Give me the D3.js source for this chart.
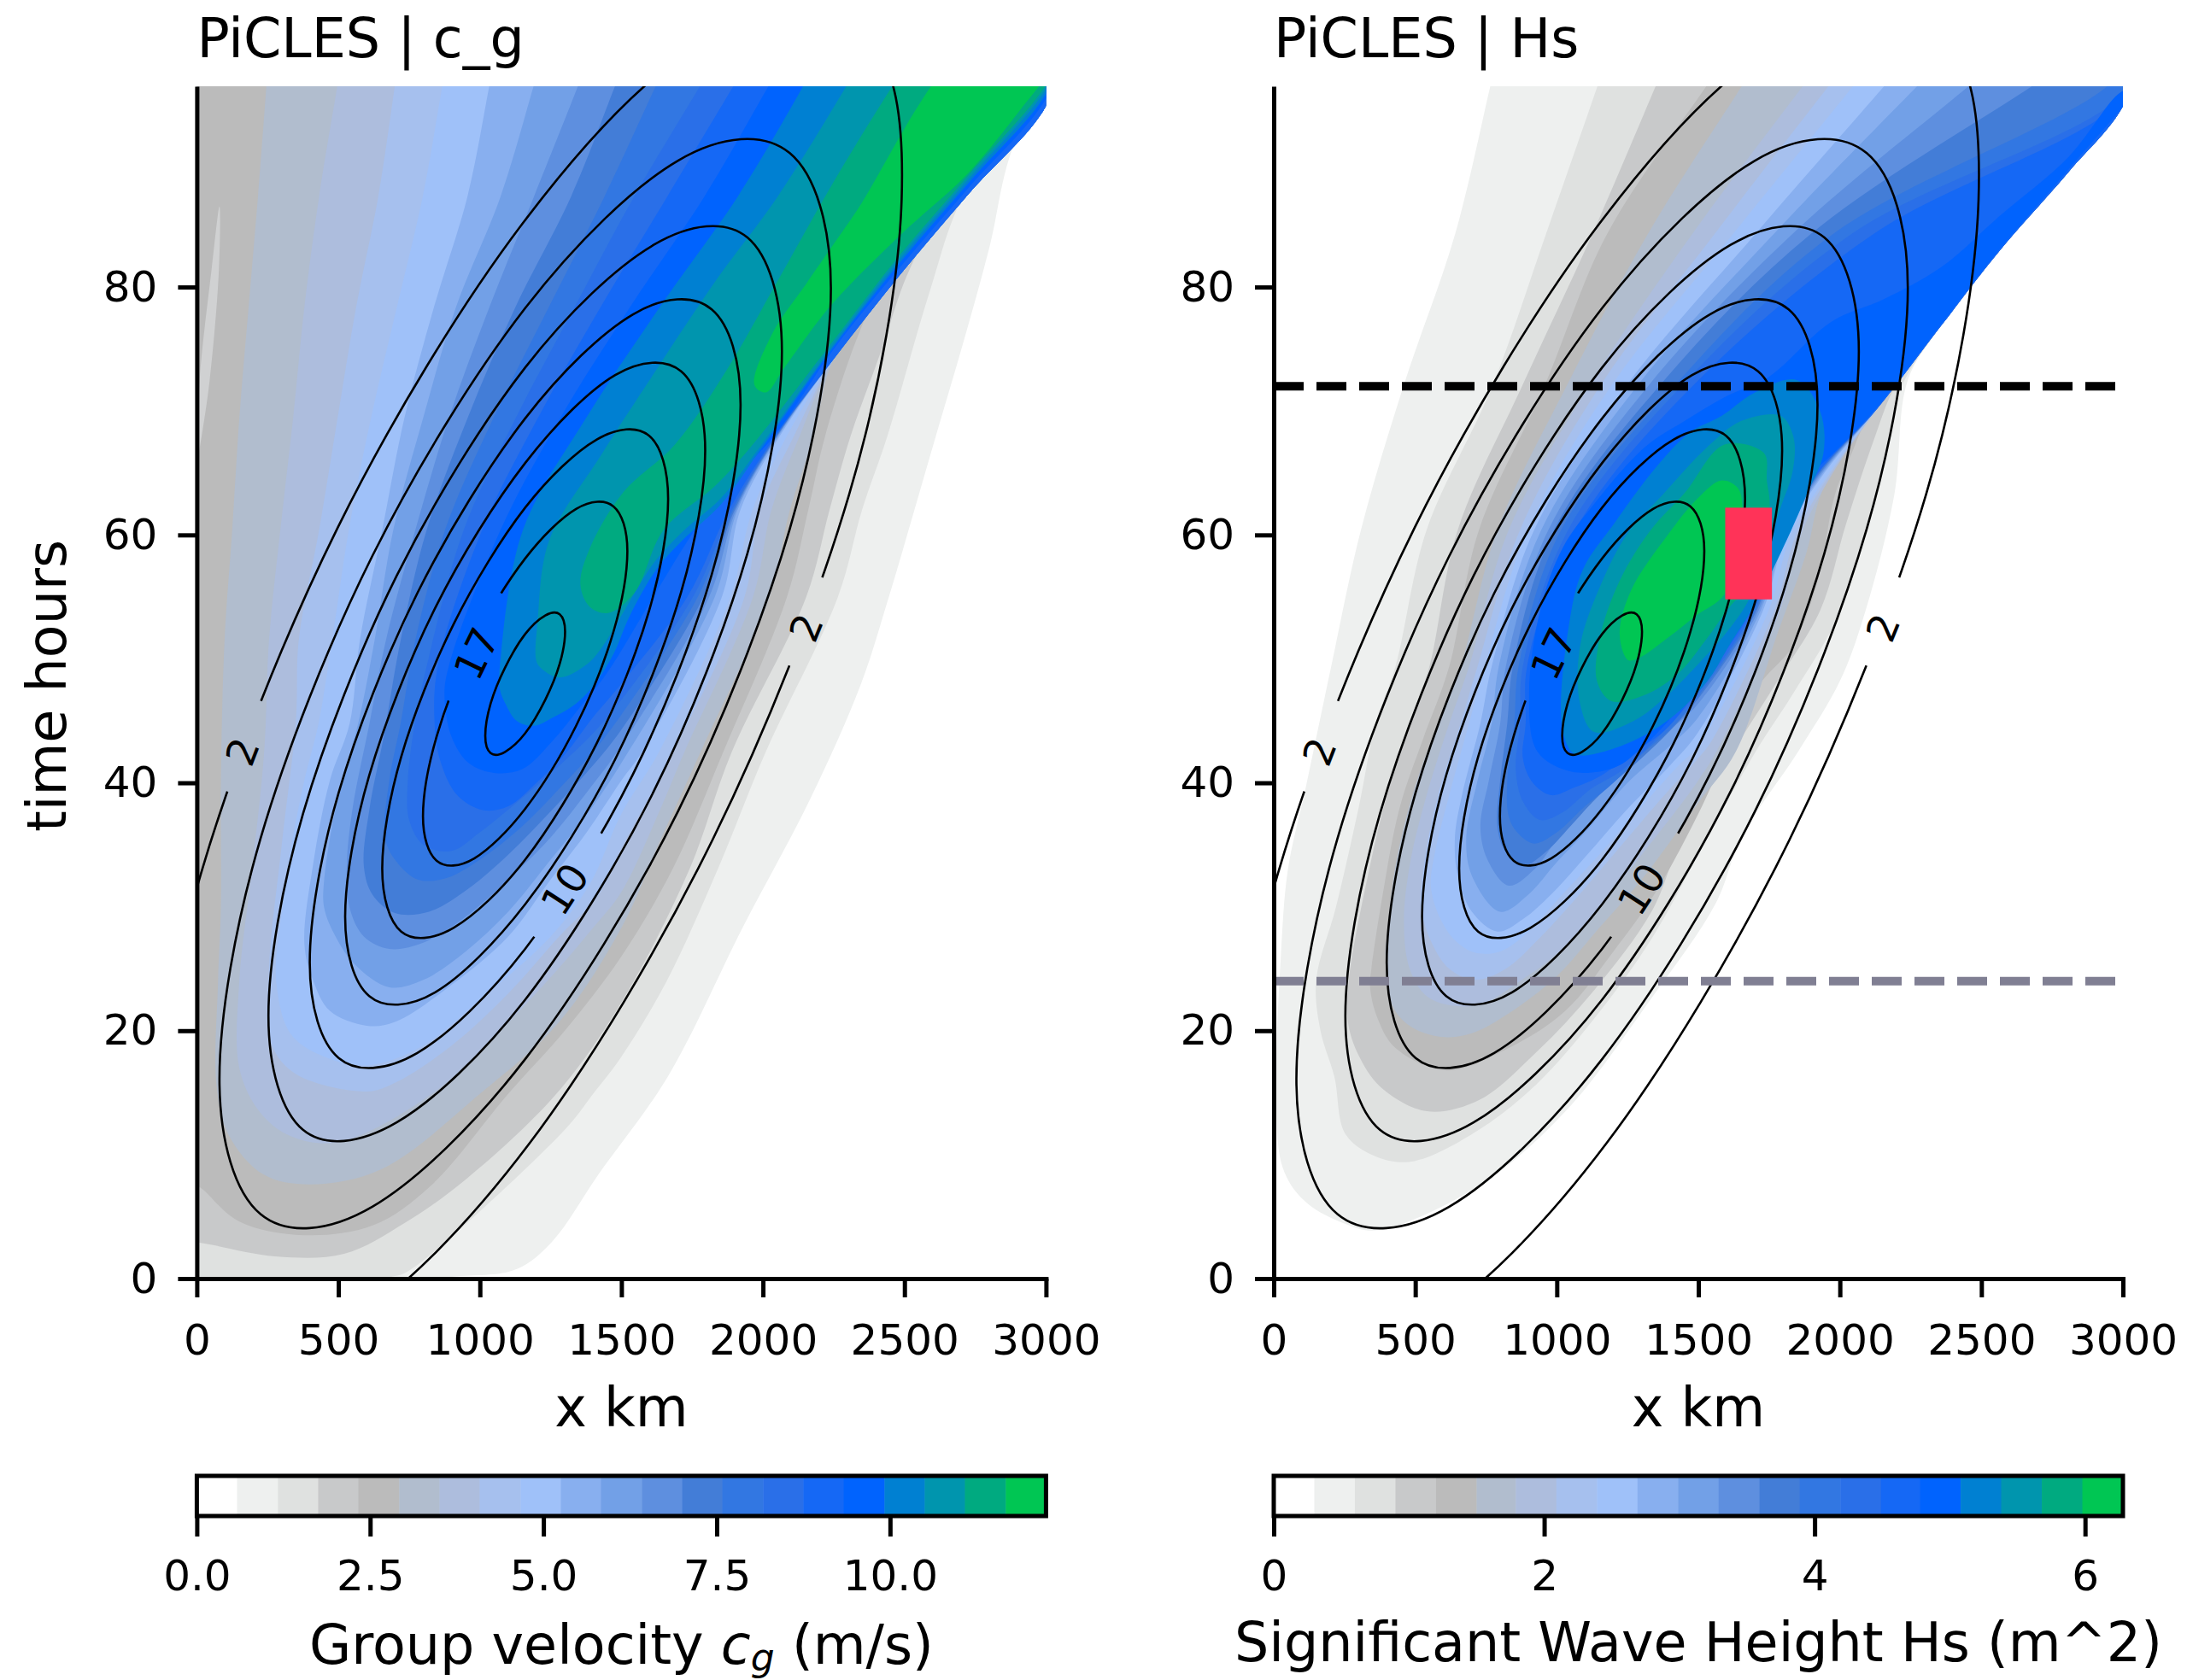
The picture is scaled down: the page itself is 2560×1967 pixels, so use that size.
<!DOCTYPE html>
<html lang="en">
<head>
<meta charset="UTF-8">
<title>PiCLES c_g and Hs</title>
<script src="https://cdn.jsdelivr.net/npm/d3@7"></script>
<style>
  body { margin: 0; background: #fff; }
  text { font-family: "DejaVu Sans", sans-serif; fill: #000; }
  .axis text { font-size: 50px; }
  .axis path, .axis line { stroke: #000; stroke-width: 5px; }
</style>
</head>
<body>
<script>

var xTicks = [0, 500, 1000, 1500, 2000, 2500, 3000];
var yTicks = [0, 20, 40, 60, 80];
var cgTicks = [0, 2.5, 5, 7.5, 10];
var hsTicks = [0, 2, 4, 6];

// colour of each band, lowest first
var bandColors = ["#ffffff", "#eef0ef", "#dfe1e0", "#c8c9ca", "#bbbbbb", "#b1bdce", "#adbddd", "#a6c0ee",
  "#9fc1f9", "#88afef", "#72a0e7", "#5e8fdf", "#437dd7", "#3277e2", "#2a6fe8", "#1568f5",
  "#0063fe", "#0080d2", "#0095ae", "#00aa80", "#00c653"];

var cgLevels = [0, .58, 1.17, 1.75, 2.33, 2.92, 3.5, 4.08, 4.67, 5.25, 5.83, 6.42, 7, 7.58, 8.17, 8.75, 9.33, 9.92, 10.5, 11.08, 11.67, 12.25];
var hsLevels = [0, .3, .6, .9, 1.2, 1.5, 1.79, 2.09, 2.39, 2.69, 2.99, 3.29, 3.59, 3.89, 4.19, 4.49, 4.78, 5.08, 5.38, 5.68, 5.98, 6.28];

// wave front on the upper right, both panels end their bands along it
var tailA = [[2250,74.2],[2481,80.9],[2726,87.5],[3000,94.6],[3070,100]];
var tailB = [[2132,70.2],[2358,76.9],[2563,82.9],[2808,89.3],[3000,94.6],[3070,100]];

// band outlines, [x km, t hours]
var cgBands = [
  [[-50,100],[-50,.2],[931,.2],[1133,.8],[1256,3],[1419,8.4],[1664,16.3],[1930,28.4],[2165,38.6],[2345,47.9],[2445,55],[2535,62],[2615,68.3],[2705,75.3],[2800,83.2],[2880,91.1],[3070,100]],
  [[-50,100],[-50,.2],[700,.2],[766,.9],[1300,12],[1400,14.9],[1500,17.9],[1660,24],[1840,33],[2010,42.5],[2265,55],[2350,62],[2440,68],[2590,79.7],[2706,87.3],[3070,100]],
  [[-50,100],[-50,3],[10,2.9],[276,1.8],[520,2],[735,4.5],[950,8],[1270,14.9],[1500,22.3],[1740,33],[1890,42.5],[2153,55],[2235,62],[2310,68],[2420,75],[2510,81],[2650,87],[3070,100]],
  [[-50,100],[-50,9],[31,7],[150,4.6],[378,3.5],[623,4.3],[827,7.5],[1100,14.9],[1300,20],[1500,26],[1680,33],[1860,42.5],[2085,55],[2160,62],[2220,68],[2338,76.2],[2420,80],[3070,100]],
  [[258,100],[246,96.3],[216,87.3],[183,78.4],[150,69.4],[125,60.4],[98,51.5],[85,40],[85,30],[75,24],[70,15.5],[112,11.6],[235,8.4],[398,7.6],[650,8.8],[1000,14.9],[1280,20.7],[1500,28.3],[1640,35.5],[1780,42.5],[2023,55],[2095,62],[2180,68]].concat(tailA),
  [[524,100],[497,96.3],[432,87.3],[380,78.4],[340,69.4],[295,60.4],[255,51.5],[238,42.5],[195,33],[150,24],[150,17],[220,13.5],[330,11.5],[500,11],[830,14.9],[1050,19.5],[1250,24.3],[1400,28.3],[1500,31.2],[1640,38],[1723,42.5],[1965,55],[2030,62],[2130,68]].concat(tailA),
  [[724,100],[700,96.3],[641,87.3],[563,78.4],[497,69.4],[432,60.4],[360,51.5],[350,45],[300,35],[255,25],[262,19],[350,16.5],[600,15.1],[700,15.8],[900,18.8],[1100,23],[1280,27.6],[1420,31],[1500,34.7],[1683,42.5],[1935,55],[1990,62],[2110,68]].concat(tailA),
  [[897,100],[868,96.3],[798,87.3],[707,78.4],[615,69.4],[537,60.4],[478,51.5],[430,44.8],[380,40.2],[330,34.4],[295,28.7],[280,24.1],[330,19.8],[440,18],[600,17.2],[800,18.8],[1000,22.5],[1250,27.6],[1390,31.9],[1500,37.5],[1633,42.5],[1885,55],[1963,62],[2085,68]].concat(tailA),
  [[1066,100],[1034,96.3],[956,87.3],[838,78.4],[733,69.4],[655,60.4],[576,51.5],[540,44.8],[470,40.2],[410,33.3],[380,27],[410,24.1],[470,21.6],[600,20.4],[700,20.7],[900,23.7],[1100,27.6],[1250,32.2],[1380,36.1],[1500,40.2],[1573,42.5],[1855,55],[1920,62],[2060,68]].concat(tailA),
  [[1239,100],[1191,96.3],[1073,87.3],[916,78.4],[799,69.4],[694,60.4],[628,51.5],[570,44.8],[500,39],[450,32.2],[450,29.9],[490,27.6],[560,25.3],[680,23.5],[800,24.1],[950,26.4],[1100,29.6],[1250,33.8],[1380,37.5],[1500,41.6],[1830,55],[1910,62],[2055,68]].concat(tailA),
  [[1410,100],[1348,96.3],[1191,87.3],[1034,78.4],[890,69.4],[772,60.4],[668,51.5],[610,44.8],[550,37.9],[530,33.3],[540,29.9],[590,27.6],[680,26.6],[800,27.1],[950,29.2],[1100,32.2],[1250,35.6],[1380,39.3],[1500,43],[1810,55],[1905,62],[2052,68]].concat(tailA),
  [[1543,100],[1479,96.3],[1322,87.3],[1126,78.4],[956,69.4],[812,60.4],[720,51.5],[660,43.7],[610,37.9],[590,33.3],[620,31],[700,29.5],[820,29.6],[950,31.3],[1100,34.2],[1250,37.7],[1380,40.9],[1500,44.3],[1790,55],[1900,62],[2050,68]].concat(tailA),
  [[1698,100],[1623,96.3],[1440,87.3],[1244,78.4],[1047,69.4],[877,60.4],[772,51.5],[720,44.8],[680,40.2],[665,35.6],[700,33.8],[780,32.2],[880,32.3],[1000,33.8],[1150,36.5],[1300,40],[1400,42.5],[1500,45.5],[1770,55],[1895,62],[2048,68]].concat(tailA),
  [[1876,100],[1780,96.3],[1545,87.3],[1335,78.4],[1126,69.4],[943,60.4],[812,49.4],[770,44.8],[745,40],[750,37],[800,35],[900,34.5],[1000,36],[1150,38.8],[1300,41.8],[1400,44],[1500,46.7],[1753,55],[1890,62],[2046,68]].concat(tailA),
  [[1995,100],[1898,96.3],[1662,87.3],[1427,78.4],[1204,69.4],[1008,60.4],[851,49.4],[840,44.8],[860,41.8],[920,39],[1010,37.8],[1100,38.1],[1200,40],[1300,42.3],[1400,45.3],[1500,48],[1733,55],[1880,62],[2044,68]].concat(tailA),
  [[2116,100],[2022,96.3],[1793,87.3],[1531,78.4],[1283,69.4],[1073,60.4],[890,49.4],[875,47],[900,43.7],[960,41.6],[1050,40.8],[1150,41.1],[1250,43.2],[1350,46],[1450,48.9],[1623,55.4],[1753,60.2],[1873,63.9],[2040,68],[2250,75],[2481,81.5],[2726,88],[3000,95.2],[3070,100]],
  [[2230,100],[2144,96.3],[1911,87.3],[1636,78.4],[1374,69.4],[1152,60.4],[1073,50],[1070,47.6],[1090,46.4],[1130,45],[1190,44.6],[1260,45.3],[1340,46.4],[1400,47.8],[1470,50.3],[1530,53.5],[1623,57.2],[1713,59.5],[1853,62.5],[1983,66.6],[2250,75.2],[2481,81.9],[2726,88.4],[3000,95.6],[3070,100]],
  [[2390,100],[2297,96.3],[2052,87.3],[1833,80.5],[1597,72.4],[1427,66.4],[1244,59.5],[1204,53],[1198,50],[1210,49.4],[1280,48.5],[1380,49.6],[1433,51],[1513,54],[1613,57.7],[1713,60.2],[1853,63],[1983,66.9],[2250,75.4],[2481,82.2],[2726,88.7],[3000,96],[3070,100]],
  [[2570,100],[2460,96.3],[2250,88.5],[2052,80.5],[1872,73.3],[1689,67.3],[1505,63.4],[1388,58.9],[1355,56],[1388,54.2],[1453,53.7],[1545,55.3],[1649,60.4],[1833,64],[1964,67.3],[2250,75.7],[2481,82.5],[2726,89],[3000,96.3],[3070,100]],
  [[2754,100],[2318,85.7],[2154,80.3],[2032,76.2],[1970,72.1],[2011,71.5],[2073,73.4],[2236,78.4],[2481,84.1],[2726,89.2],[2930,94.9],[3000,97],[3070,100]]
];

// thin lighter streak next to the time axis in the c_g panel
var cgSliver = [[80,86.5],[78,81.4],[45,72.4],[12,67.3],[5,66.5],[10,72.4],[52,81.4]];

var hsBands = [
  [[805,100],[766,96.3],[641,84.3],[458,72],[308,60.4],[203,49.4],[110,39.3],[50,33],[25,26],[10,16.3],[31,9],[112,6.2],[255,4.4],[367,3.9],[725,7.5],[1031,13.5],[1337,22.7],[1562,30.3],[1652,35.6],[1852,42.5],[2002,48.3],[2092,54],[2192,63.2],[2240,72.5]].concat(tailB.slice(1)),
  [[1200,100],[1145,96.3],[962,84.3],[772,72],[540,60.4],[430,49.4],[360,44.8],[300,38],[220,30],[150,24.1],[165,20],[214,16.3],[255,11.6],[378,9.7],[500,9.5],[725,12],[929,15.7],[1133,21],[1337,27.5],[1532,35.6],[1702,42.5],[1832,47.1],[1982,52.9],[2072,58.6],[2152,65.5],[2215,71.8]].concat(tailB.slice(1)),
  [[1420,100],[1351,96.3],[1126,84.3],[877,72],[650,60.4],[550,49.4],[480,44.8],[400,39],[340,33.3],[265,24.1],[262,20.7],[300,18],[380,15.4],[541,13.5],[725,14.4],[929,18.3],[1133,23.3],[1337,29.7],[1442,35.6],[1622,42.5],[1782,48.3],[1932,54],[2022,60.9],[2122,67.8],[2200,72.2]].concat(tailB.slice(1)),
  [[1640,100],[1531,96.3],[1178,84.3],[956,72],[725,60.4],[620,49.4],[530,43.7],[445,38],[385,31],[345,25],[340,23.6],[365,21.1],[430,18.6],[612,16.8],[830,18.6],[1030,21.6],[1200,26.4],[1350,31.2],[1500,37.5],[1590,42],[1712,47.8],[1832,51],[1922,56.3],[1982,63.2],[2042,66.6],[2100,69.5]].concat(tailB.slice(1)),
  [[1760,100],[1656,96.3],[1322,84.3],[1034,72],[790,60.4],[660,49.4],[580,44.8],[490,39],[430,33.3],[400,27.6],[395,26],[420,22],[480,20.4],[590,19.5],[700,19.8],[830,21.4],[1000,24.4],[1150,28.3],[1300,32.2],[1500,38.4],[1632,42.5],[1782,52.2],[1882,58.6],[1932,63.2],[2002,66]].concat(tailB),
  [[1995,100],[1872,96.3],[1479,84.3],[1113,72],[830,60.4],[690,49.4],[620,44.8],[540,39],[480,33.3],[460,28.7],[480,25],[540,22.8],[640,22],[740,22.2],[870,24],[1000,26.2],[1150,30],[1300,34.2],[1500,40.2],[1575,43],[1790,54],[1862,60],[1975,65]].concat(tailB),
  [[2090,100],[1963,96.3],[1558,84.3],[1152,72],[870,60.4],[720,49.4],[660,44.8],[580,39],[530,33.3],[520,29.9],[560,27],[620,25],[710,24.1],[820,25],[940,27.5],[1080,31],[1230,35],[1380,39],[1500,42],[1550,43.5],[1770,54],[1845,60],[1968,65]].concat(tailB),
  [[2180,100],[2050,96.3],[1623,84.3],[1191,72],[897,60.4],[745,49.4],[690,44.8],[620,39],[570,34.4],[555,31.7],[585,29.2],[640,27.3],[710,26.3],[800,26.4],[900,28],[1000,30.5],[1150,34.2],[1300,38.1],[1430,41.4],[1500,43],[1750,54],[1827,60],[1962,65]].concat(tailB),
  [[2300,100],[2160,96.3],[1702,84.3],[1244,72],[920,60.4],[770,49.4],[730,44.8],[665,39],[640,35.6],[650,32.5],[700,29.6],[790,28],[880,29],[980,31],[1100,34],[1250,37.9],[1400,41.4],[1500,44.1],[1730,54],[1810,60],[1945,65]].concat(tailB),
  [[2435,100],[2277,96.3],[1767,84.3],[1283,72],[945,60.4],[795,49.4],[770,44.8],[720,40.2],[680,35.6],[700,32.5],[800,29.6],[900,31],[1000,33.6],[1100,36],[1250,40],[1400,43],[1500,45.3],[1722,54],[1805,60],[1940,65]].concat(tailB),
  [[2655,100],[2460,96.3],[1833,84.3],[1322,72],[970,60.4],[820,49.4],[800,44.8],[760,40.2],[730,36.5],[755,33.8],[830,31.7],[920,33],[1000,35.4],[1100,38],[1250,41.6],[1400,44.3],[1500,46.4],[1715,54],[1800,60],[1935,65]].concat(tailB),
  [[2925,100],[2685,96.3],[1898,84.3],[1361,72],[990,60.4],[845,49.4],[825,44.8],[800,40.2],[790,36.5],[815,34.6],[880,33.3],[960,34.4],[1060,36.8],[1150,39],[1300,42],[1400,44.2],[1500,46.8],[1708,54],[1797,60],[1930,65]].concat(tailB),
  [[2950,96.3],[1977,84.3],[1414,72],[1015,60.4],[865,49.4],[850,44.8],[825,40.2],[830,37.3],[860,36],[920,35.1],[1000,36],[1100,38.1],[1200,40],[1300,42.3],[1400,44.3],[1500,47],[1702,54],[1795,60],[1926,65]].concat(tailB),
  [[3000,95.6],[2042,84.3],[1440,72],[1040,60.4],[880,49.4],[870,44.8],[855,41],[880,38.5],[940,37],[1020,37.6],[1120,39.5],[1230,41],[1350,43.5],[1500,47.3],[1697,54],[1793,60],[1924,65]].concat(tailB),
  [[3000,95.2],[2120,84.3],[1479,72],[1065,60.4],[895,49.4],[890,44.8],[880,42],[915,40],[980,39],[1060,39.6],[1150,40.5],[1260,42.3],[1380,44.2],[1500,47.6],[1690,54],[1791,60],[1922,65]].concat(tailB),
  [[1052,40.9],[932,42.5],[902,47.1],[942,54],[1022,59],[1132,62.5],[1312,67.1],[1452,69.2],[1600,71.2],[1746,72.7],[1970,77.2],[2154,79],[2358,81.6],[2563,85.7],[2808,90.5],[2991,95.7],[3040,96],[2808,89.5],[2563,83],[2358,77],[2132,70.3],[1982,66.7],[1872,64.3],[1802,62],[1762,58.6],[1672,54],[1552,49.9],[1432,46],[1285,42.5],[1200,41.2]],
  [[1092,42.2],[1052,42.5],[1017,44.8],[1042,52.6],[1092,57.2],[1202,60.9],[1352,65.5],[1472,68.3],[1582,69.6],[1700,71.5],[1848,72.5],[1930,70],[1942,66.6],[1882,63.2],[1792,58.6],[1702,54.5],[1612,51.2],[1532,48.2],[1402,45.2],[1252,43.2]],
  [[1132,44.1],[1082,46.4],[1082,51],[1152,55.8],[1252,60.2],[1372,63.2],[1532,67.1],[1652,69.2],[1792,69.6],[1837,67.8],[1832,65],[1792,62.3],[1700,56],[1672,54.5],[1602,52.2],[1512,49.9],[1392,47.1],[1272,45]],
  [[1192,46.6],[1142,48.2],[1152,51.7],[1222,56.3],[1332,60.4],[1452,63.4],[1592,67.3],[1732,66.6],[1742,64.4],[1752,62.3],[1700,56],[1622,54.5],[1532,51.7],[1432,48.9],[1312,47.1]],
  [[1252,49.9],[1222,52],[1262,55.5],[1392,60],[1500,63],[1582,64.4],[1642,63.7],[1650,60],[1592,55.2],[1492,53.5],[1392,51.7],[1292,50.1]]
];

// the closed wave height contours, same in both panels, [x km, t hours]
var contourRings = [
  [[2490,87.1],[2355,100.4],[1790,99.7],[1150,85.1],[498,60.6],[15,32.7],[-163,8.9],[15,-4.4],[530,-3.7],[1175,10.9],[1822,35.4],[2305,63.3]],
  [[2240,79.9],[2095,90.8],[1700,90.2],[1160,78.3],[620,58.3],[225,35.5],[80,16.1],[225,5.2],[620,5.8],[1160,17.7],[1700,37.7],[2095,60.5]],
  [[2067,74.8],[1945,84],[1614,83.4],[1160,73.5],[706,56.7],[375,37.5],[253,21.2],[375,12],[706,12.6],[1160,22.5],[1614,39.3],[1945,58.5]],
  [[1921,70.5],[1819,78.2],[1541,77.8],[1160,69.4],[779,55.3],[501,39.2],[399,25.5],[501,17.8],[779,18.2],[1160,26.6],[1541,40.7],[1819,56.8]],
  [[1796,66.8],[1711,73.2],[1478,72.9],[1160,65.8],[842,54.1],[609,40.6],[524,29.2],[609,22.8],[842,23.1],[1160,30.2],[1478,41.9],[1711,55.4]],
  [[1665,62.9],[1598,68],[1413,67.7],[1160,62.2],[907,52.8],[722,42.1],[655,33.1],[722,28],[907,28.3],[1160,33.8],[1413,43.2],[1598,53.9]],
  [[1521,58.7],[1472,62.3],[1340,62.1],[1160,58.1],[980,51.4],[848,43.8],[799,37.3],[848,33.7],[980,33.9],[1160,37.9],[1340,44.6],[1472,52.2]],
  [[1301,52.2],[1282,53.6],[1231,53.5],[1160,52],[1089,49.3],[1038,46.4],[1019,43.8],[1038,42.4],[1089,42.5],[1160,44],[1231,46.7],[1282,49.6]]
];

var labelText = ["2", "2", "10", "17"];
var labelX = [162, 2153, 1300, 988];
var labelT = [43, 53, 31.9, 50.9];
var labelAngle = [-69, -68, -57, -64];
var labelGap = [113, 110, 144, 140];

var redBoxX = [1595, 1760];
var redBoxT = [54.8, 62.2];
var blackLineT = 72;
var greyLineT = 24;

var svg = d3.select("body").append("svg").attr("width", 2560).attr("height", 1967);

var plotTop = 101, plotBottom = 1497;

function drawPanel(id, left, right, title, bands, levels, cbarTicks, cbarFormat, cbarTitle, cbarTitleY) {
  var x = d3.scaleLinear().domain([0, 3000]).range([left, right]);
  var y = d3.scaleLinear().domain([0, 96.2]).range([plotBottom, plotTop]);
  var g = svg.append("g");

  svg.append("clipPath").attr("id", "clip" + id).append("rect")
    .attr("x", left).attr("y", plotTop).attr("width", right - left).attr("height", plotBottom - plotTop);

  var plot = g.append("g").attr("clip-path", "url(#clip" + id + ")");

  var fill = d3.line().x(function(d) { return x(d[0]); }).y(function(d) { return y(d[1]); })
    .curve(d3.curveCatmullRomClosed.alpha(0.5));
  var ring = d3.line().x(function(d) { return x(d[0]); }).y(function(d) { return y(d[1]); })
    .curve(d3.curveCardinalClosed.tension(0));

  plot.selectAll("path.band").data(bands).enter().append("path")
    .attr("class", "band")
    .attr("d", fill)
    .attr("fill", function(d, i) { return bandColors[i + 1]; });

  if (id == "A") {
    plot.append("path").attr("d", fill(cgSliver)).attr("fill", "#d0d1d2");
  }

  // contour lines get gaps where the inline labels sit
  var mask = svg.append("mask").attr("id", "gaps" + id).attr("maskUnits", "userSpaceOnUse")
    .attr("x", 0).attr("y", 0).attr("width", 2560).attr("height", 1967);
  mask.append("rect").attr("width", 2560).attr("height", 1967).attr("fill", "#fff");
  labelText.forEach(function(t, i) {
    mask.append("rect")
      .attr("x", -labelGap[i] / 2).attr("y", -13)
      .attr("width", labelGap[i]).attr("height", 26)
      .attr("fill", "#000")
      .attr("transform", "translate(" + x(labelX[i]) + "," + y(labelT[i]) + ") rotate(" + labelAngle[i] + ")");
  });

  plot.append("g").attr("mask", "url(#gaps" + id + ")")
    .selectAll("path").data(contourRings).enter().append("path")
    .attr("d", ring)
    .attr("fill", "none")
    .attr("stroke", "#000")
    .attr("stroke-width", 2.6);

  labelText.forEach(function(t, i) {
    plot.append("text")
      .attr("transform", "translate(" + x(labelX[i]) + "," + (y(labelT[i]) + 7) + ") rotate(" + labelAngle[i] + ")")
      .attr("text-anchor", "middle")
      .attr("dominant-baseline", "central")
      .style("font-size", "47px")
      .text(t);
  });

  if (id == "B") {
    plot.append("line").attr("x1", x(0)).attr("x2", x(3000)).attr("y1", y(greyLineT)).attr("y2", y(greyLineT))
      .attr("stroke", "#807f93").attr("stroke-width", 10).attr("stroke-dasharray", "35,15");
    plot.append("line").attr("x1", x(0)).attr("x2", x(3000)).attr("y1", y(blackLineT)).attr("y2", y(blackLineT))
      .attr("stroke", "#000").attr("stroke-width", 10).attr("stroke-dasharray", "35,15");
    plot.append("rect")
      .attr("x", x(redBoxX[0])).attr("width", x(redBoxX[1]) - x(redBoxX[0]))
      .attr("y", y(redBoxT[1])).attr("height", y(redBoxT[0]) - y(redBoxT[1]))
      .attr("fill", "#ff3358");
  }

  g.append("g").attr("class", "axis").attr("transform", "translate(0," + plotBottom + ")")
    .call(d3.axisBottom(x).tickValues(xTicks).tickFormat(d3.format("d")).tickSize(22).tickSizeOuter(0).tickPadding(31))
    .select(".domain").attr("stroke-linecap", "square");
  g.append("g").attr("class", "axis").attr("transform", "translate(" + left + ",0)")
    .call(d3.axisLeft(y).tickValues(yTicks).tickFormat(d3.format("d")).tickSize(22).tickSizeOuter(0).tickPadding(24));

  g.append("text").attr("x", left).attr("y", 67).style("font-size", "63.5px").text(title);
  g.append("text").attr("x", (left + right) / 2).attr("y", 1670).attr("text-anchor", "middle")
    .style("font-size", "63.5px").text("x km");

  // colour bar underneath
  var cb = d3.scaleLinear().domain([levels[0], levels[levels.length - 1]]).range([left, right]);
  var barTop = 1728, barH = 47;
  g.selectAll("rect.bin").data(bandColors).enter().append("rect")
    .attr("class", "bin")
    .attr("x", function(d, i) { return cb(levels[i]); })
    .attr("width", function(d, i) { return cb(levels[i + 1]) - cb(levels[i]) + .5; })
    .attr("y", barTop).attr("height", barH)
    .attr("fill", function(d) { return d; });
  g.append("rect").attr("x", left).attr("y", barTop).attr("width", right - left).attr("height", barH)
    .attr("fill", "none").attr("stroke", "#000").attr("stroke-width", 5);
  g.append("g").attr("class", "axis").attr("transform", "translate(0," + (barTop + barH) + ")")
    .call(d3.axisBottom(cb).tickValues(cbarTicks).tickFormat(d3.format(cbarFormat)).tickSize(24).tickSizeOuter(0).tickPadding(27))
    .select(".domain").remove();

  cbarTitle(g.append("text").attr("x", (left + right) / 2).attr("y", cbarTitleY).attr("text-anchor", "middle").style("font-size", "63.5px"));
}

drawPanel("A", 230.4, 1224.4, "PiCLES | c_g", cgBands, cgLevels, cgTicks, ".1f", function(t) {
  t.append("tspan").text("Group velocity ");
  t.append("tspan").style("font-style", "italic").text("c");
  t.append("tspan").style("font-style", "italic").style("font-size", "44px").attr("dy", 8).text("g");
  t.append("tspan").attr("dy", -8).text(" (m/s)");
}, 1948);

drawPanel("B", 1491, 2485, "PiCLES | Hs", hsBands, hsLevels, hsTicks, "d", function(t) {
  t.text("Significant Wave Height Hs (m^2)");
}, 1945);

// only panel A carries the time axis title
svg.append("text")
  .attr("transform", "translate(77,803) rotate(-90)")
  .attr("text-anchor", "middle")
  .style("font-size", "63.5px")
  .text("time hours");

</script>
</body>
</html>
